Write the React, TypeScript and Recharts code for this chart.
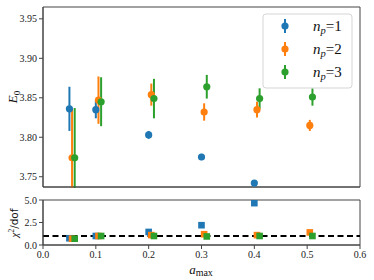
import { ComposedChart, Scatter, ErrorBar, XAxis, YAxis, ReferenceLine, ReferenceArea } from 'recharts';

// a_max values; each n_p series is nudged right so the bars don't overlap
const A_MAX = [0.05, 0.1, 0.2, 0.3, 0.4, 0.5];
const SHIFT = [0, 0.005, 0.01];

const E0_NP1 = [3.836, 3.835, 3.803, 3.775, 3.742, null];
const E0_NP1_ERR = [0.028, 0.011, 0.005, 0.004, 0.003, null];
const E0_NP2 = [3.774, 3.847, 3.854, 3.832, 3.835, 3.815];
const E0_NP2_ERR = [0.063, 0.03, 0.014, 0.011, 0.01, 0.007];
const E0_NP3 = [3.774, 3.845, 3.849, 3.864, 3.849, 3.851];
const E0_NP3_ERR = [0.063, 0.031, 0.025, 0.015, 0.013, 0.011];

const CHI2_NP1 = [0.75, 1.0, 1.45, 2.2, 4.65, null];
const CHI2_NP2 = [0.7, 1.0, 1.1, 1.2, 1.1, 1.4];
const CHI2_NP3 = [0.7, 1.0, 1.0, 0.95, 1.0, 1.0];

const X_TICKS = [0, 0.1, 0.2, 0.3, 0.4, 0.5, 0.6];
const E0_TICKS = [3.75, 3.8, 3.85, 3.9, 3.95];
const CHI2_TICKS = [0, 2.5, 5];
const NP_LABELS = ['1', '2', '3'];

const COLORS = ['#1f77b4', '#ff7f0e', '#2ca02c'];
const SPINE = '#444';
const SERIF = '"Liberation Serif", "DejaVu Serif", serif';
const TICK = { fontSize: 10, fill: '#222', fontFamily: SERIF };

const E0_DOMAIN: [number, number] = [3.737, 3.965];

function series(vals: (number | null)[], errs: (number | null)[] | null, s: number) {
  const out: { x: number; y: number; err?: number }[] = [];
  vals.forEach((v, i) => {
    if (v === null) return;
    const row: { x: number; y: number; err?: number } = { x: A_MAX[i] + SHIFT[s], y: v };
    if (errs && errs[i] !== null) row.err = errs[i] as number;
    out.push(row);
  });
  return out;
}

const E0 = [
  series(E0_NP1, E0_NP1_ERR, 0),
  series(E0_NP2, E0_NP2_ERR, 1),
  series(E0_NP3, E0_NP3_ERR, 2),
];
const CHI2 = [series(CHI2_NP1, null, 0), series(CHI2_NP2, null, 1), series(CHI2_NP3, null, 2)];

const dot = (color: string) => (p: any) => <circle cx={p.cx} cy={p.cy} r={3.6} fill={color} />;
const square = (color: string) => (p: any) => (
  <rect x={p.cx - 3.3} y={p.cy - 3.3} width={6.6} height={6.6} fill={color} />
);

export default function App() {
  return (
    <div
      style={{
        position: 'absolute',
        left: 0,
        top: 0,
        width: 374,
        height: 280,
        background: '#fff',
        fontFamily: SERIF,
      }}
    >
      <div style={{ position: 'absolute', left: 0, top: 0 }}>
        <ComposedChart width={374} height={195} margin={{ top: 7, right: 14, left: 0, bottom: 0 }}>
          <XAxis
            type="number"
            dataKey="x"
            domain={[0, 0.6]}
            ticks={X_TICKS}
            tick={false}
            height={8}
            tickSize={4}
            stroke={SPINE}
            allowDataOverflow
          />
          <YAxis
            type="number"
            dataKey="y"
            domain={E0_DOMAIN}
            ticks={E0_TICKS}
            tickFormatter={(v: number) => v.toFixed(2)}
            tick={TICK}
            width={43}
            tickSize={4}
            stroke={SPINE}
            allowDataOverflow
          />
          <ReferenceArea x1={0} x2={0.6} y1={E0_DOMAIN[0]} y2={E0_DOMAIN[1]} fill="none" stroke={SPINE} strokeWidth={1} />
          {E0.map((d, i) => (
            <Scatter key={i} data={d} fill={COLORS[i]} shape={dot(COLORS[i])} isAnimationActive={false}>
              <ErrorBar dataKey="err" direction="y" width={0} stroke={COLORS[i]} strokeWidth={2} />
            </Scatter>
          ))}
        </ComposedChart>
      </div>

      <div style={{ position: 'absolute', left: 0, top: 195 }}>
        <ComposedChart width={374} height={85} margin={{ top: 5, right: 14, left: 0, bottom: 0 }}>
          <XAxis
            type="number"
            dataKey="x"
            domain={[0, 0.6]}
            ticks={X_TICKS}
            tickFormatter={(v: number) => v.toFixed(1)}
            tick={TICK}
            height={35}
            tickSize={4}
            stroke={SPINE}
          />
          <YAxis
            type="number"
            dataKey="y"
            domain={[0, 5]}
            ticks={CHI2_TICKS}
            tickFormatter={(v: number) => v.toFixed(1)}
            tick={TICK}
            width={43}
            tickSize={4}
            stroke={SPINE}
            allowDataOverflow
          />
          <ReferenceArea x1={0} x2={0.6} y1={0} y2={5} fill="none" stroke={SPINE} strokeWidth={1} />
          <ReferenceLine y={1} stroke="#000" strokeWidth={2} strokeDasharray="6 3.5" />
          {CHI2.map((d, i) => (
            <Scatter key={i} data={d} fill={COLORS[i]} shape={square(COLORS[i])} isAnimationActive={false} />
          ))}
        </ComposedChart>
      </div>

      <svg
        width={374}
        height={280}
        style={{ position: 'absolute', left: 0, top: 0, pointerEvents: 'none' }}
      >
        {/* mask the error bars that run past the bottom of the upper panel */}
        <rect x={44} y={188} width={50} height={11} fill="#fff" />

        <text transform="translate(17,97) rotate(-90)" textAnchor="middle" fontFamily={SERIF} fontSize={13} fill="#111">
          <tspan fontStyle="italic">E</tspan>
          <tspan fontSize={9} dy={3}>0</tspan>
        </text>
        <text transform="translate(18,223) rotate(-90)" textAnchor="middle" fontFamily={SERIF} fontSize={11} fill="#111">
          <tspan fontStyle="italic">χ</tspan>
          <tspan fontSize={7.5} dy={-4}>2</tspan>
          <tspan dy={4} fontFamily='"DejaVu Sans", sans-serif' fontSize={10.5}>/dof</tspan>
        </text>
        <text x={201} y={274} textAnchor="middle" fontFamily={SERIF} fontSize={13} fill="#111">
          <tspan fontStyle="italic">a</tspan>
          <tspan fontSize={10} dy={2}>max</tspan>
        </text>

        <rect x={263} y={14} width={89} height={74} rx={3} fill="#fff" fillOpacity={0.85} stroke="#d5d5d5" />
        {NP_LABELS.map((n, i) => {
          const y = 26 + i * 23;
          return (
            <g key={n}>
              <line x1={285} x2={285} y1={y - 7} y2={y + 7} stroke={COLORS[i]} strokeWidth={2} />
              <circle cx={285} cy={y} r={3.6} fill={COLORS[i]} />
              <text x={313} y={y + 5} fontFamily={SERIF} fontSize={15} fill="#111">
                <tspan fontStyle="italic">n</tspan>
                <tspan fontStyle="italic" fontSize={10.5} dy={3}>p</tspan>
                <tspan dy={-3}>={n}</tspan>
              </text>
            </g>
          );
        })}
      </svg>
    </div>
  );
}
